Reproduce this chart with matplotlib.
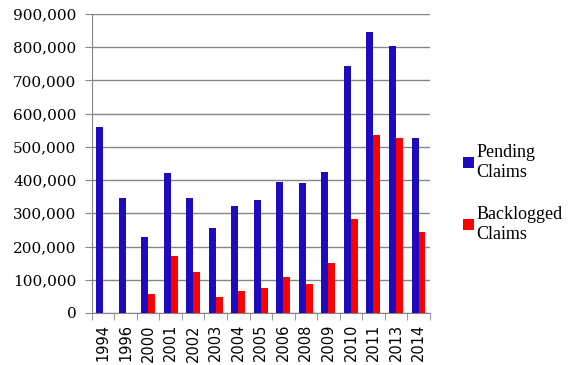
import numpy as np
import matplotlib.pyplot as plt
from matplotlib.ticker import FuncFormatter, FixedLocator

years = ['1994', '1996', '2000', '2001', '2002', '2003', '2004', '2005',
         '2006', '2008', '2009', '2010', '2011', '2013', '2014']
pending = [561000, 346000, 229000, 421000, 346000, 256000, 322000, 340000,
           394000, 391000, 424000, 743000, 846000, 804000, 527000]
backlogged = [0, 0, 57000, 172000, 123000, 48000, 66000, 75000,
              108000, 87000, 150000, 283000, 536000, 527000, 244000]

fig = plt.figure(figsize=(5.7, 3.65), dpi=100)
ax = fig.add_axes([0.161, 0.1425, 0.593, 0.8195])

x = np.arange(len(years))
w = 0.31
ax.bar(x - w / 2, pending, w, color='#1f0bbf', label='Pending\nClaims', zorder=3)
ax.bar(x + w / 2, backlogged, w, color='#ff0000', label='Backlogged\nClaims', zorder=3)

ax.set_xlim(-0.5, len(years) - 0.5)
ax.set_ylim(0, 900000)
ax.set_yticks(np.arange(0, 900001, 100000))
ax.yaxis.set_major_formatter(FuncFormatter(lambda v, p: f'{int(v):,}'))
ax.grid(axis='y', color='#868686', linewidth=1, zorder=0)

ax.set_xticks(x)
ax.set_xticklabels(years, rotation=90, fontsize=10.5, family='DejaVu Sans')
ax.xaxis.set_minor_locator(FixedLocator(np.arange(-0.5, len(years), 1)))
ax.tick_params(axis='x', which='major', length=0, pad=8)
ax.tick_params(axis='x', which='minor', length=5, color='#868686')
ax.tick_params(axis='y', length=5, color='#868686', pad=6)
for lab in ax.get_yticklabels():
    lab.set_family('DejaVu Serif')
    lab.set_fontsize(11)

for s in ['top', 'right']:
    ax.spines[s].set_visible(False)
for s in ['left', 'bottom']:
    ax.spines[s].set_color('#868686')

ax.legend(loc='center left', bbox_to_anchor=(1.05, 0.40), frameon=False,
          prop={'family': 'Liberation Serif', 'size': 13},
          handlelength=0.6, handleheight=0.6, handletextpad=0.15,
          labelspacing=1.4)

fig.savefig('out.png', dpi=100)
